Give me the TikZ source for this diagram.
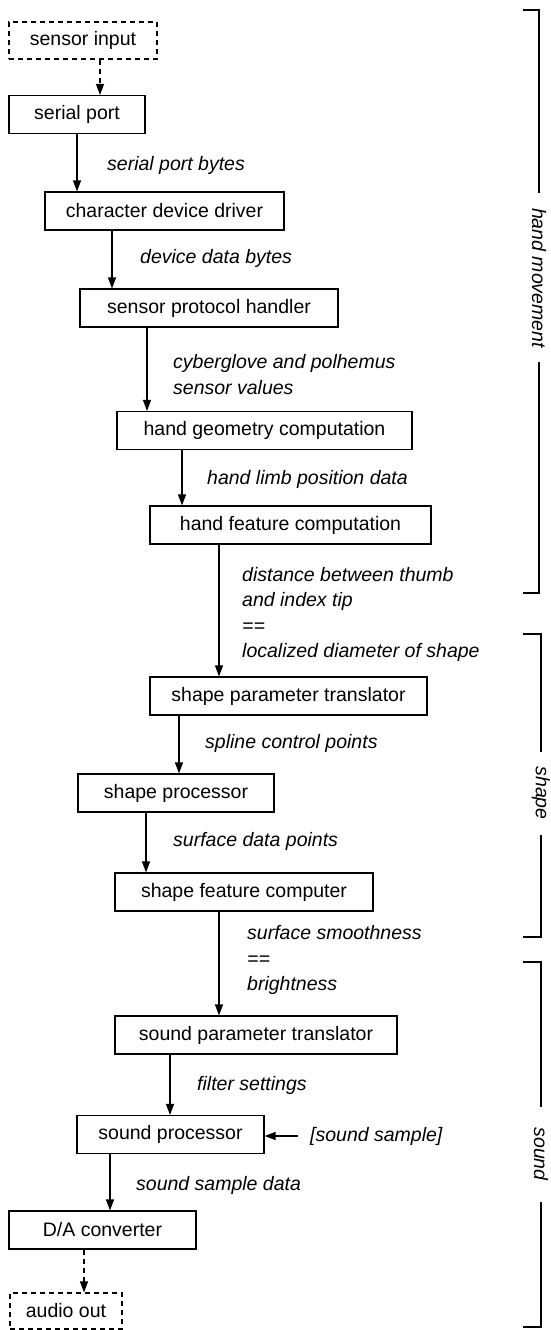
\documentclass[tikz,border=0pt]{standalone}
\usepackage{fontspec}
\setmainfont{Liberation Sans}
\usetikzlibrary{arrows.meta}

\begin{document}
\begin{tikzpicture}[x=1pt,y=-1pt,
  font=\fontsize{19.5}{25}\selectfont,
  box/.style={draw,line width=1.2pt,minimum height=38pt,inner sep=0pt},
  ghost/.style={box,dash pattern=on 5pt off 4pt},
  lbl/.style={anchor=west,inner sep=0pt,align=left,font=\fontsize{19.5}{25.5}\selectfont\itshape},
  flow/.style={line width=1.2pt,-{Triangle[length=11pt,width=8pt]}},
  dflow/.style={flow,dash pattern=on 5pt off 4pt},
  brace/.style={line width=1.2pt}]
\useasboundingbox (0,0) rectangle (550,1330);

% processing chain
\node[ghost,minimum width=148pt,minimum height=37pt] (sensorin) at (83,40.5) {sensor input};
\node[box,minimum width=136pt] (serialport) at (77,114.5) {serial port};
\node[box,minimum width=239pt] (chardev) at (164.5,211) {character device driver};
\node[box,minimum width=258pt] (protocol) at (209,308) {sensor protocol handler};
\node[box,minimum width=295pt] (geometry) at (264.5,430.5) {hand geometry computation};
\node[box,minimum width=281pt] (handfeat) at (290.5,525) {hand feature computation};
\node[box,minimum width=277pt] (shapeparam) at (288.5,696) {shape parameter translator};
\node[box,minimum width=196pt] (shapeproc) at (176,793) {shape processor};
\node[box,minimum width=258pt] (shapefeat) at (244,892) {shape feature computer};
\node[box,minimum width=282pt] (soundparam) at (256,1035) {sound parameter translator};
\node[box,minimum width=187pt] (soundproc) at (170.5,1134.5) {sound processor};
\node[box,minimum width=187pt] (dac) at (102.5,1230) {D/A converter};
\node[ghost,minimum width=112pt,minimum height=36pt] (audioout) at (66,1311) {audio out};

% data between the stages
\node[lbl] (bytes) at (107,165) {serial port bytes};
\node[lbl] (devbytes) at (140,258) {device data bytes};
\node[lbl] (values) at (173,374.5) {cyberglove and polhemus\\sensor values};
\node[lbl] (limbs) at (207,479) {hand limb position data};
\node[lbl] (distance) at (242,614.5) {distance between thumb\\and index tip\\==\\localized diameter of shape};
\node[lbl] (spline) at (205,743) {spline control points};
\node[lbl] (surface) at (173,841) {surface data points};
\node[lbl] (smooth) at (247,960) {surface smoothness\\==\\brightness};
\node[lbl] (filter) at (197,1085) {filter settings};
\node[lbl] (sample) at (310,1136) {[sound sample]};
\node[lbl] (sampledata) at (136,1185) {sound sample data};

\draw[dflow] (sensorin.south -| 100,0) -- (serialport.north -| 100,0);
\draw[flow] (serialport.south -| 77,0) -- (chardev.north -| 77,0);
\draw[flow] (chardev.south -| 112,0) -- (protocol.north -| 112,0);
\draw[flow] (protocol.south -| 147,0) -- (geometry.north -| 147,0);
\draw[flow] (geometry.south -| 182,0) -- (handfeat.north -| 182,0);
\draw[flow] (handfeat.south -| 219,0) -- (shapeparam.north -| 219,0);
\draw[flow] (shapeparam.south -| 179,0) -- (shapeproc.north -| 179,0);
\draw[flow] (shapeproc.south -| 146,0) -- (shapefeat.north -| 146,0);
\draw[flow] (shapefeat.south -| 219,0) -- (soundparam.north -| 219,0);
\draw[flow] (soundparam.south -| 170,0) -- (soundproc.north -| 170,0);
\draw[flow] (soundproc.south -| 110,0) -- (dac.north -| 110,0);
\draw[dflow] (dac.south -| 84,0) -- (audioout.north -| 84,0);
\draw[flow] ([xshift=-12pt]sample.west) -- (soundproc.east |- sample.west);

% groups on the right
\node[lbl,anchor=center,rotate=-90] (handgroup) at (539,278) {hand movement};
\node[lbl,anchor=center,rotate=-90] (shapegroup) at (541,793) {shape};
\node[lbl,anchor=center,rotate=-90] (soundgroup) at (541,1154) {sound};
\draw[brace] (523,10) -- (539,10) -- (539,193);
\draw[brace] (539,362) -- (539,593) -- (523,593);
\draw[brace] (523,634) -- (541,634) -- (541,752);
\draw[brace] (541,835) -- (541,937) -- (523,937);
\draw[brace] (523,962) -- (541,962) -- (541,1107);
\draw[brace] (541,1202) -- (541,1327) -- (523,1327);
\end{tikzpicture}
\end{document}
